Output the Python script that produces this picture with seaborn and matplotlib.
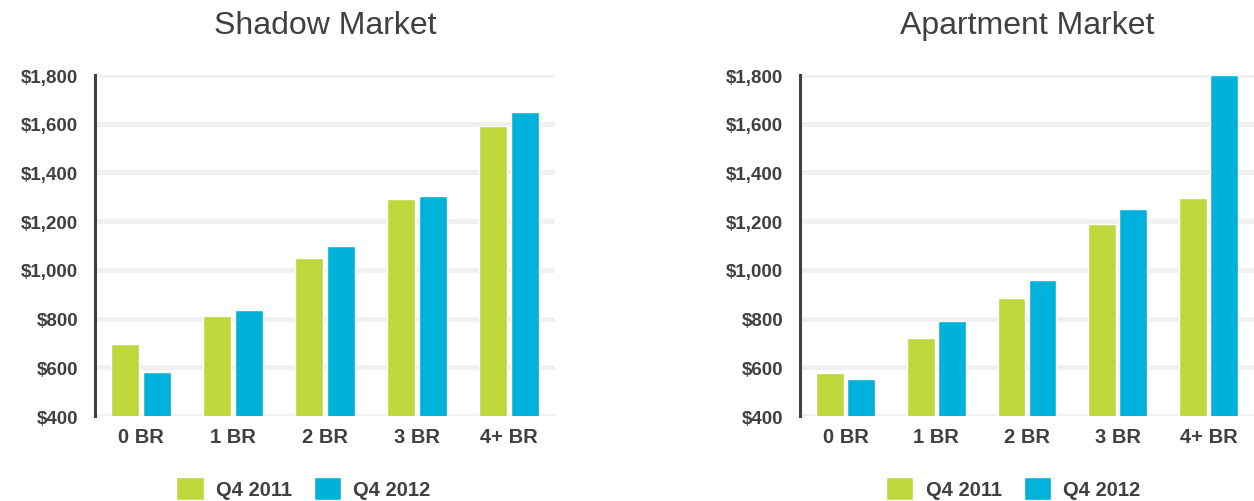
import numpy as np
import pandas as pd
import seaborn as sns
import matplotlib.pyplot as plt
from matplotlib.ticker import StrMethodFormatter
from matplotlib.patches import Patch

# Values (monthly rent, USD)
bedrooms = ['0 BR', '1 BR', '2 BR', '3 BR', '4+ BR']
periods = ['Q4 2011', 'Q4 2012']
shadow_q4_2011 = [695, 810, 1050, 1290, 1590]
shadow_q4_2012 = [580, 835, 1100, 1305, 1650]
apartment_q4_2011 = [575, 720, 885, 1190, 1295]
apartment_q4_2012 = [550, 790, 960, 1250, 1800]

green = '#BFD73C'
blue = '#00B1D9'
dark = '#404040'


def long_table(a, b):
    return pd.DataFrame({
        'Bedrooms': bedrooms * 2,
        'Period': [periods[0]] * len(bedrooms) + [periods[1]] * len(bedrooms),
        'Rent': a + b,
    })


shadow = long_table(shadow_q4_2011, shadow_q4_2012)
apartment = long_table(apartment_q4_2011, apartment_q4_2012)

sns.set_style('white')
plt.rcParams['font.family'] = ['Liberation Sans', 'DejaVu Sans']

fig = plt.figure(figsize=(12.54, 5.02), dpi=100)
ax1 = fig.add_axes([0.0758, 0.1693, 0.3668, 0.6793])
ax2 = fig.add_axes([0.638, 0.1693, 0.362, 0.6793])

panels = [(ax1, shadow, 'Shadow Market', 0.242),
          (ax2, apartment, 'Apartment Market', 0.808)]

for ax, df, title, leg_x in panels:
    sns.barplot(data=df, x='Bedrooms', y='Rent', hue='Period',
                palette=[green, blue], saturation=1, width=0.68, gap=0.1,
                edgecolor='white', linewidth=1, legend=False, ax=ax,
                zorder=3)
    ax.set_ylim(400, 1800)
    ax.set_xlim(-0.5, 4.5)
    ax.set_yticks(np.arange(400, 1801, 200))
    ax.yaxis.set_major_formatter(StrMethodFormatter('${x:,.0f}'))
    ax.grid(axis='y', color='#F0F0F0', linewidth=3.5, zorder=0)
    ax.set_axisbelow(True)
    for side in ['top', 'right', 'bottom']:
        ax.spines[side].set_visible(False)
    ax.spines['left'].set_color(dark)
    ax.spines['left'].set_linewidth(2.2)
    ax.tick_params(axis='y', length=0, pad=12, labelsize=13.5, labelcolor=dark)
    ax.tick_params(axis='x', length=0, pad=8, labelsize=14.5, labelcolor=dark)
    for lab in ax.get_xticklabels() + ax.get_yticklabels():
        lab.set_fontweight('bold')
    ax.set_xlabel('')
    ax.set_ylabel('')
    ax.set_title(title, fontsize=23, color=dark, pad=30)

    handles = [Patch(facecolor=green, edgecolor='white'),
               Patch(facecolor=blue, edgecolor='white')]
    fig.legend(handles, periods, loc='center', bbox_to_anchor=(leg_x, 0.025),
               ncol=2, frameon=False, handlelength=1.35, handleheight=1.35,
               handletextpad=0.6, columnspacing=1.1,
               prop={'size': 14.5, 'weight': 'bold'}, labelcolor=dark)

fig.savefig('out.png', dpi=100)
